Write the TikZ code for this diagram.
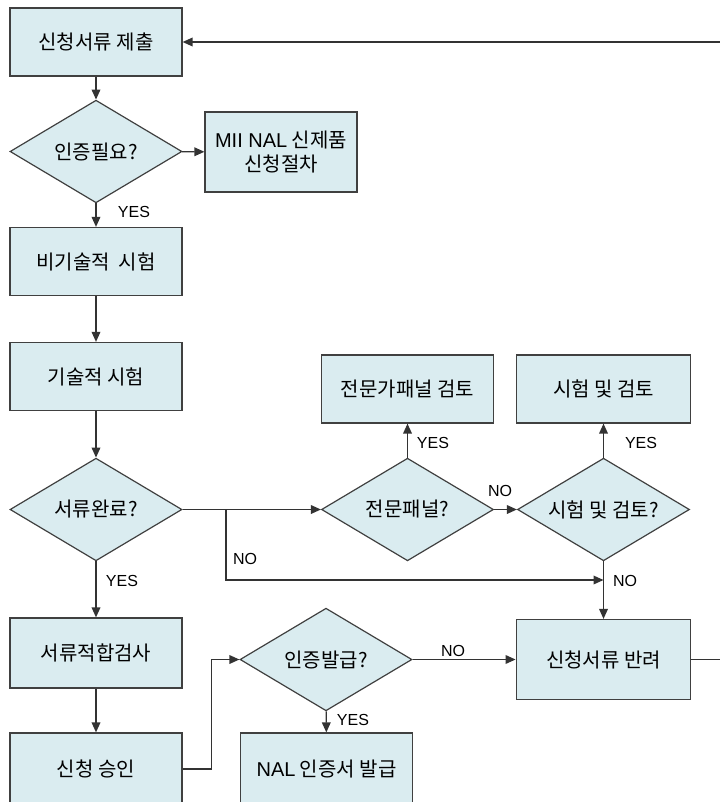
\documentclass[tikz,border=0pt]{standalone}
\usepackage{fontspec}
\setmainfont{Liberation Sans}
\newfontfamily\kr{Noto Sans CJK KR}
\usepackage{tikz}
\usetikzlibrary{shapes.geometric,arrows.meta}

\definecolor{boxfill}{RGB}{218,236,240}
\definecolor{boxline}{RGB}{64,64,64}

\begin{document}
\begin{tikzpicture}[x=0.75pt,y=0.75pt,yscale=-1,xscale=1,
  box/.style={draw=boxline,line width=0.9pt,fill=boxfill,rectangle,minimum width=129pt,minimum height=51pt,inner sep=0pt,align=center,font=\kr\fontsize{15}{18.5}\selectfont},
  ask/.style={draw=boxline,line width=0.9pt,fill=boxfill,diamond,aspect=1.7,minimum width=129pt,minimum height=77pt,inner sep=0pt,font=\kr\fontsize{15}{18.5}\selectfont},
  flow/.style={draw=boxline!80!black,line width=1pt,-{Triangle[length=7.5pt,width=6.5pt]}},
  tag/.style={inner sep=0.75pt,font=\rmfamily\fontsize{12}{14}\selectfont}]
\useasboundingbox (0,0) rectangle (720,802);

%Shape: Rectangle
\draw (96,42) node [box] (sub) {신청서류 제출};
%Shape: Diamond
\draw (96,151.5) node [ask] (need) {인증필요?};
%Shape: Rectangle
\draw (281,152) node [box,minimum width=114pt,minimum height=60pt] (mii) {{\rmfamily MII NAL} 신제품\\신청절차};
%Shape: Rectangle
\draw (96,261.5) node [box] (nontech) {비기술적\ \ 시험};
%Shape: Rectangle
\draw (96,376.5) node [box] (tech) {기술적 시험};
%Shape: Diamond
\draw (96,509.5) node [ask] (done) {서류완료?};
%Shape: Diamond
\draw (407.5,509.5) node [ask] (panel) {전문패널?};
%Shape: Diamond
\draw (603.5,509.5) node [ask] (testq) {시험 및 검토?};
%Shape: Rectangle
\draw (407.5,389) node [box] (panelrev) {전문가패널 검토};
%Shape: Rectangle
\draw (603.5,389) node [box,minimum width=131pt] (testrev) {시험 및 검토};
%Shape: Rectangle
\draw (96,653) node [box,minimum height=52.5pt] (docchk) {서류적합검사};
%Shape: Rectangle
\draw (96,769) node [box,minimum height=54pt] (approve) {신청 승인};
%Shape: Diamond
\draw (326,659.5) node [ask] (issue) {인증발급?};
%Shape: Rectangle
\draw (326.5,769) node [box,minimum height=54pt] (nal) {{\rmfamily NAL} 인증서 발급};
%Shape: Rectangle
\draw (603.5,659.5) node [box,minimum width=131pt,minimum height=60pt] (ret) {신청서류 반려};

\coordinate (split) at (226,509.5);
\coordinate (back) at (730,42);

% Connectors
\draw [flow] (sub) -- (need);
\draw [flow] (need) -- (mii);
\draw [flow] (need) -- (nontech);
\draw [flow] (nontech) -- (tech);
\draw [flow] (tech) -- (done);
\draw [flow] (done.east) -- (panel.west);
\draw [flow] (split) |- (testq.south |- 0,580);
\draw [flow] (panel) -- (panelrev);
\draw [flow] (panel) -- (testq);
\draw [flow] (testq) -- (testrev);
\draw [flow] (testq) -- (ret);
\draw [flow] (done) -- (docchk);
\draw [flow] (docchk) -- (approve);
\draw [flow] (approve.east) -- ++(29,0) |- (issue.west);
\draw [flow] (issue) -- (ret);
\draw [flow] (issue) -- (nal);
\draw [flow] (ret.east) -| (back) -- (sub.east);

% Text Node
\draw (134,212) node [tag] {YES};
% Text Node
\draw (122,581) node [tag] {YES};
% Text Node
\draw (245,559) node [tag] {NO};
% Text Node
\draw (433,443) node [tag] {YES};
% Text Node
\draw (500,491) node [tag] {NO};
% Text Node
\draw (641,443) node [tag] {YES};
% Text Node
\draw (625,581) node [tag] {NO};
% Text Node
\draw (453,651) node [tag] {NO};
% Text Node
\draw (353,720) node [tag] {YES};

\end{tikzpicture}
\end{document}
